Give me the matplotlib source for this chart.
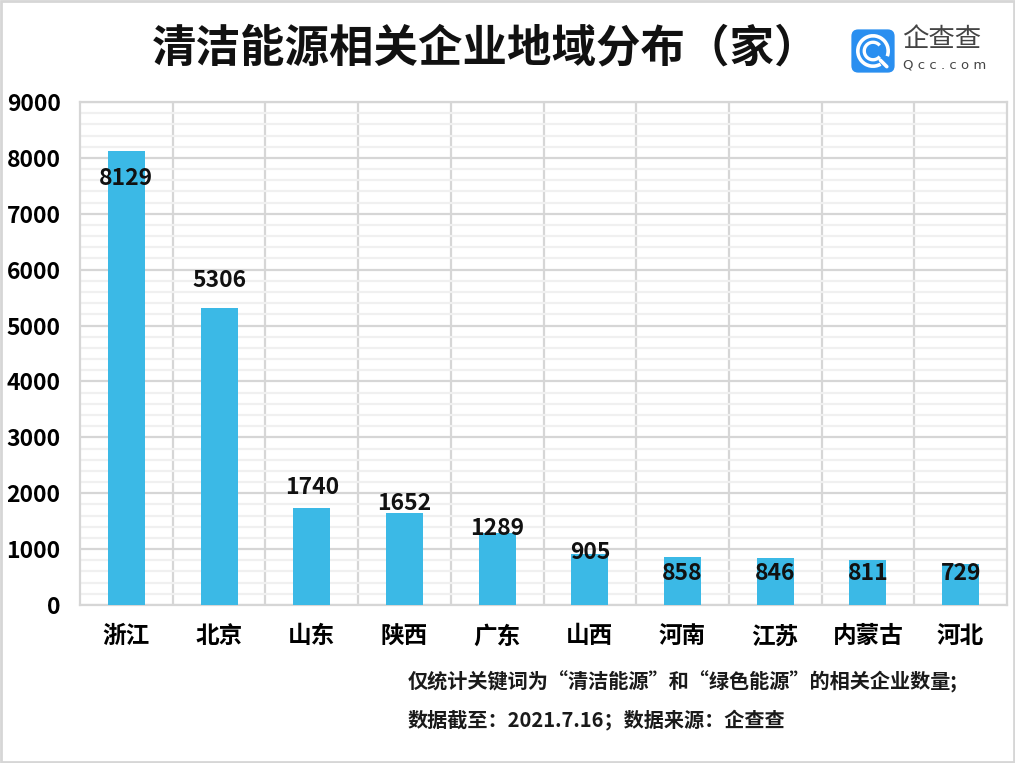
import matplotlib
matplotlib.use("Agg")
import matplotlib.pyplot as plt
from matplotlib.patches import FancyBboxPatch, Rectangle, Arc
from matplotlib.ticker import MultipleLocator

plt.rcParams["font.family"] = ["Noto Sans CJK SC", "DejaVu Sans"]

# data
provinces = ["浙江", "北京", "山东", "陕西", "广东", "山西", "河南", "江苏", "内蒙古", "河北"]
counts = [8129, 5306, 1740, 1652, 1289, 905, 858, 846, 811, 729]
# where each value label sits (data units)
label_y = [7640, 5815, 2110, 1825, 1360, 948, 555, 555, 555, 555]

title = "清洁能源相关企业地域分布（家）"
notes = ["仅统计关键词为“清洁能源”和“绿色能源”的相关企业数量;",
         "数据截至：2021.7.16；数据来源：企查查"]

BAR = "#3bb9e6"
W, H = 1015, 763

fig = plt.figure(figsize=(W / 100, H / 100), dpi=100)
ax = fig.add_axes([80 / W, 1 - 605 / H, 927 / W, 503 / H])

x = list(range(len(provinces)))
ax.bar(x, counts, width=0.4, color=BAR, zorder=3)
for xi, v, ly in zip(x, counts, label_y):
    ax.text(xi, ly, str(v), ha="center", va="center", fontsize=16.5,
            fontweight="bold", color="#111111", zorder=4)

ax.set_xlim(-0.5, len(provinces) - 0.5)
ax.set_ylim(0, 9000)
ax.yaxis.set_major_locator(MultipleLocator(1000))
ax.yaxis.set_minor_locator(MultipleLocator(200))
ax.set_xticks(x)
ax.set_xticklabels(provinces, fontsize=17, fontweight="bold")
ax.set_xticks([i + 0.5 for i in x[:-1]], minor=True)
ax.tick_params(axis="both", length=0, which="both")
ax.tick_params(axis="x", pad=14)
ax.tick_params(axis="y", pad=14, labelsize=16.5)
for lab in ax.get_yticklabels():
    lab.set_fontweight("bold")

ax.grid(axis="y", which="major", color="#d6d6d6", lw=1.6, zorder=1)
ax.grid(axis="y", which="minor", color="#f0f0f0", lw=1.6, zorder=0)
ax.grid(axis="x", which="minor", color="#d6d6d6", lw=1.6, zorder=1)
ax.grid(axis="x", which="major", visible=False)
for s in ax.spines.values():
    s.set_color("#d6d6d6")
    s.set_linewidth(1.6)

fig.text(486 / W, 1 - 48 / H, title, ha="center", va="center",
         fontsize=32, fontweight="bold", color="#111111")

for i, line in enumerate(notes):
    fig.text(408 / W, 1 - (682 + 38 * i) / H, line, ha="left", va="center",
             fontsize=14.5, fontweight="bold", color="#1a1a1a")

# logo
lax = fig.add_axes([850 / W, 1 - 74 / H, 46 / W, 46 / H])
lax.set_xlim(0, 1)
lax.set_ylim(0, 1)
lax.axis("off")
lax.add_patch(FancyBboxPatch((0.03, 0.03), 0.94, 0.94,
                             boxstyle="round,pad=0,rounding_size=0.15",
                             fc="#2a8ff0", ec="none"))
lax.add_patch(Arc((0.5, 0.5), 0.66, 0.66, theta1=-20, theta2=300, color="white", lw=2.6))
lax.add_patch(Arc((0.5, 0.5), 0.38, 0.38, theta1=40, theta2=320, color="white", lw=2.4))
lax.plot([0.66, 0.8], [0.3, 0.16], color="white", lw=2.6, solid_capstyle="round")
fig.text(902 / W, 1 - 40 / H, "企查查", ha="left", va="center",
         fontsize=19, color="#444444")
fig.text(903 / W, 1 - 65 / H, "Q c c . c o m", ha="left", va="center",
         fontsize=9.5, color="#444444", family="DejaVu Sans")

fig.patches.append(Rectangle((0.001, 0.001), 0.998, 0.998, transform=fig.transFigure,
                             fill=False, ec="#d6d6d6", lw=2))

fig.savefig("out.png", dpi=100)
